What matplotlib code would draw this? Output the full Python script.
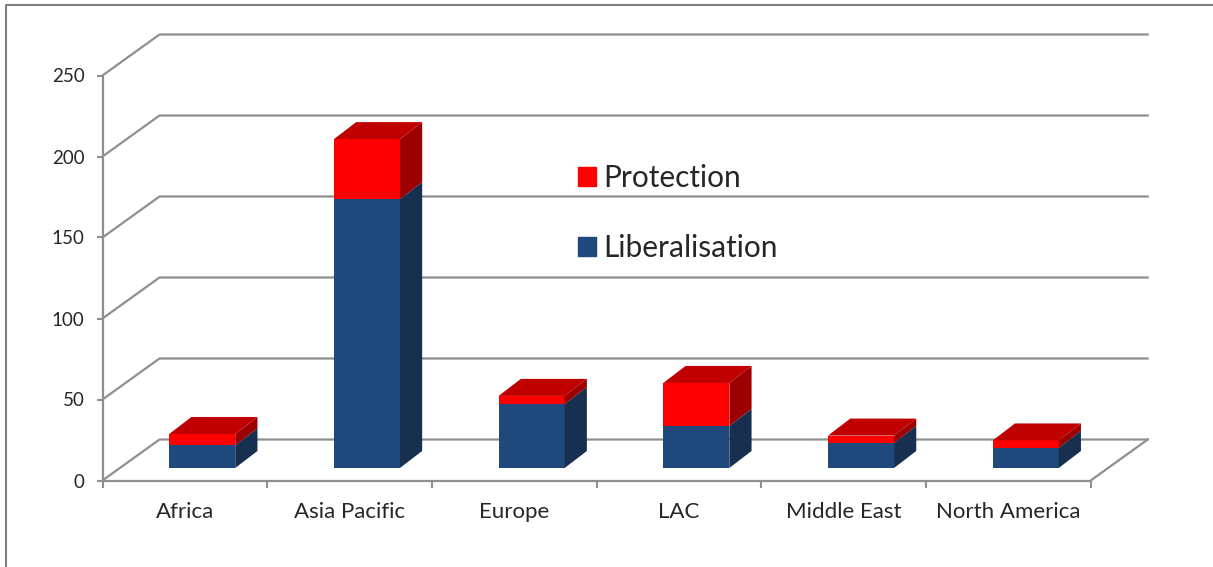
import matplotlib
matplotlib.use('Agg')
import matplotlib.pyplot as plt
import numpy as np
from matplotlib.patches import Patch

plt.rcParams['font.family'] = ['Lato', 'DejaVu Sans']

regions = ['Africa', 'Asia Pacific', 'Europe', 'LAC', 'Middle East', 'North America']
liberalisation = [14, 166, 39.5, 26, 15.5, 12.5]
protection = [7, 37, 5, 26.5, 4.5, 4.5]
y_ticks = [0, 50, 100, 150, 200, 250]

w_px, h_px = 1213, 567
px_x = 164.7   # pixels per category
px_y = 1.62    # pixels per value unit
depth_x = 57 / px_x
depth_y = 41 / px_y
bar_w = 66 / px_x
bar_dx = 0.305 * depth_x
bar_dy = 0.305 * depth_y
bar_depth = 0.39
grid_col = '#8f8f8f'
txt_col = '#262626'

fig = plt.figure(figsize=(w_px / 100, h_px / 100), dpi=100)
left, right, top, bottom = 102.5, 1147, 33, 480.5
ax = fig.add_axes([left / w_px, 1 - bottom / h_px, (right - left) / w_px, (bottom - top) / h_px])
ax.set_xlim(-0.5, -0.5 + (right - left) / px_x)
ax.set_ylim(0, (bottom - top) / px_y)
n = len(regions)

# walls and floor
for v in y_ticks:
    ax.plot([-0.5, -0.5 + depth_x, n - 0.5 + depth_x], [v, v + depth_y, v + depth_y],
            color=grid_col, lw=1.6, zorder=1, clip_on=False)
ax.plot([n - 0.5, n - 0.5 + depth_x], [0, depth_y], color=grid_col, lw=1.6, zorder=1, clip_on=False)


def box(x, low, high, front, side, roof=None):
    x0 = x + bar_dx - bar_w / 2
    x1 = x0 + bar_w
    y0 = low + bar_dy
    y1 = high + bar_dy
    ddx = bar_depth * depth_x
    ddy = 0.415 * depth_y
    ax.bar(x0, y1 - y0, bar_w, bottom=y0, align='edge', color=front, lw=0, zorder=3)
    ax.fill([x1, x1 + ddx, x1 + ddx, x1], [y0, y0 + ddy, y1 + ddy, y1], color=side, lw=0, zorder=3)
    if roof:
        ax.fill([x0, x0 + ddx, x1 + ddx, x1], [y1, y1 + ddy, y1 + ddy, y1], color=roof, lw=0, zorder=3)


for i in range(n):
    box(i, 0, liberalisation[i], '#1F497D', '#17304F')
    box(i, liberalisation[i], liberalisation[i] + protection[i], '#FF0000', '#9C0000', '#C00000')

for s in ['top', 'right']:
    ax.spines[s].set_visible(False)
for s in ['left', 'bottom']:
    ax.spines[s].set_color(grid_col)
    ax.spines[s].set_linewidth(1.6)
ax.spines['left'].set_bounds(0, 250)
ax.spines['bottom'].set_bounds(-0.5, n - 0.5)
ax.patch.set_alpha(0)

ax.set_yticks(y_ticks)
ax.set_yticklabels([str(v) for v in y_ticks], fontsize=13.5, color=txt_col)
ax.tick_params(axis='y', length=4, width=1.5, color=grid_col, pad=9)
ax.set_xticks(np.arange(n + 1) - 0.5)
ax.set_xticklabels([])
ax.tick_params(axis='x', which='major', length=5, width=1.5, color=grid_col)
ax.set_xticks(np.arange(n), minor=True)
ax.set_xticklabels(regions, minor=True, fontsize=16, color=txt_col)
ax.tick_params(axis='x', which='minor', length=0, pad=15.5)

handles = [Patch(color='#FF0000', label='Protection'), Patch(color='#1F497D', label='Liberalisation')]
leg = ax.legend(handles=handles, loc='upper left', bbox_to_anchor=(0.455, 0.708), frameon=False,
                fontsize=21.5, handlelength=0.62, handleheight=0.6, handletextpad=0.24, labelspacing=1.42,
                labelcolor=txt_col, borderpad=0, borderaxespad=0)

# outer frame of the pasted chart
fig.add_artist(plt.Line2D([6 / w_px, 6 / w_px, 1], [0, 1 - 5 / h_px, 1 - 5 / h_px],
                          color='#7f7f7f', lw=1.5))

fig.savefig('out.png', dpi=100)
